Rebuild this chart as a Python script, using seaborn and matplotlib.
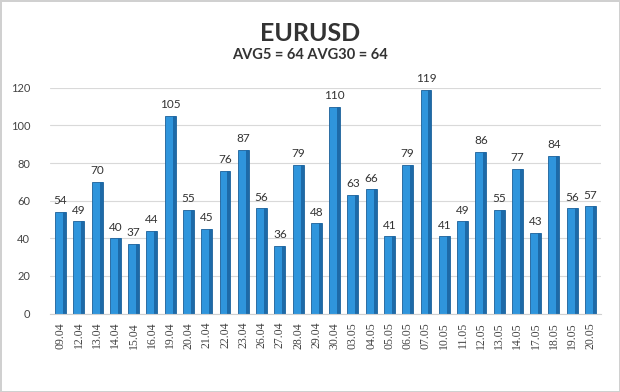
import matplotlib
matplotlib.use('Agg')
import matplotlib.pyplot as plt
import seaborn as sns
import pandas as pd

# Данные графика
dates = ['09.04', '12.04', '13.04', '14.04', '15.04', '16.04', '19.04', '20.04', '21.04', '22.04',
         '23.04', '26.04', '27.04', '28.04', '29.04', '30.04', '03.05', '04.05', '05.05', '06.05',
         '07.05', '10.05', '11.05', '12.05', '13.05', '14.05', '17.05', '18.05', '19.05', '20.05']
values = [54, 49, 70, 40, 37, 44, 105, 55, 45, 76,
          87, 56, 36, 79, 48, 110, 63, 66, 41, 79,
          119, 41, 49, 86, 55, 77, 43, 84, 56, 57]
y_ticks = [0, 20, 40, 60, 80, 100, 120]

df = pd.DataFrame({'date': dates, 'value': values})

sns.set_style('white')
plt.rcParams['font.family'] = ['Lato', 'DejaVu Sans']

fig = plt.figure(figsize=(6.2, 3.92), dpi=100, edgecolor='#d0d0d0', linewidth=2)
ax = fig.add_axes([0.08, 0.2, 0.89, 0.576])

sns.barplot(x='date', y='value', data=df, color='#2f95dc', width=0.6,
            edgecolor='#1b5f98', linewidth=0.6, saturation=1, ax=ax)

# тёмная боковая грань для объёма
for p in ax.patches:
    w = p.get_width()
    ax.add_patch(plt.Rectangle((p.get_x() + w * 0.72, 0), w * 0.28, p.get_height(),
                               color='#1d6aa8', lw=0, zorder=p.get_zorder() + 0.1))

for i, v in enumerate(values):
    ax.text(i, v + 3, str(v), ha='center', va='bottom', fontsize=8.5, color='#333333', clip_on=False)

ax.set_ylim(0, 120)
ax.set_yticks(y_ticks)
ax.set_xlim(-0.6, len(dates) - 0.4)
ax.set_xticks(range(len(dates)))
ax.set_xticklabels(dates, rotation=90, fontsize=8.5, color='#444444',
                   fontfamily=['Liberation Serif', 'DejaVu Serif'])
ax.grid(axis='y', color='#d9d9d9', linewidth=0.8)
ax.set_axisbelow(True)
for s in ['top', 'right', 'left']:
    ax.spines[s].set_visible(False)
ax.spines['bottom'].set_color('#d0d0d0')
ax.set_xlabel('')
ax.set_ylabel('')
ax.tick_params(axis='x', length=0, pad=6)
ax.tick_params(axis='y', labelsize=8, colors='#444444', length=0, pad=14)

fig.text(0.5, 0.915, 'EURUSD', ha='center', va='center', fontsize=18, fontweight='bold', color='#333333')
fig.text(0.5, 0.86, 'AVG5 = 64 AVG30 = 64', ha='center', va='center', fontsize=10.5,
         fontweight='bold', color='#333333')

fig.savefig('out.png', dpi=100, edgecolor=fig.get_edgecolor())
